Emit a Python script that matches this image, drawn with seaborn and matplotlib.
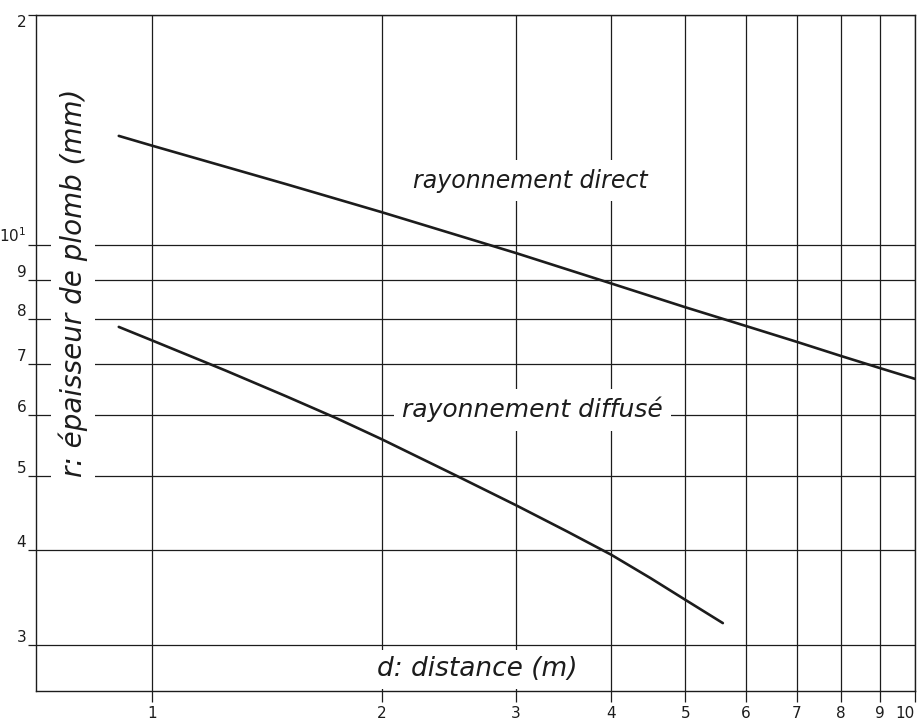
import matplotlib
matplotlib.use("Agg")
import matplotlib.pyplot as plt
import seaborn as sns
import pandas as pd

# ---- data (log-log chart) ----
d_direct = [0.905, 1.0, 1.5, 2.0, 3.0, 4.0, 5.0, 6.0, 7.0, 8.0, 9.0, 10.0]
r_direct = [13.90, 13.50, 12.02, 11.05, 9.77, 8.915, 8.30, 7.846, 7.479, 7.167, 6.91, 6.69]

d_diffuse = [0.905, 1.0, 1.25, 1.5, 1.75, 2.0, 2.5, 3.0, 3.5, 4.0, 4.5, 5.0, 5.6]
r_diffuse = [7.823, 7.513, 6.858, 6.348, 5.936, 5.580, 5.005, 4.574, 4.227, 3.940, 3.674, 3.441, 3.208]

x_ticks = [1, 2, 3, 4, 5, 6, 7, 8, 9, 10]
x_tick_labels = ["1", "2", "3", "4", "5", "6", "7", "8", "9", "10"]
y_ticks = [3, 4, 5, 6, 7, 8, 9, 10, 20]
y_tick_labels = ["3", "4", "5", "6", "7", "8", "9", r"$10^1$", "2"]

label_direct = "rayonnement direct"
label_diffuse = "rayonnement diffusé"
x_title = "d: distance (m)"
y_title = "r: épaisseur de plomb (mm)"

df = pd.concat([
    pd.DataFrame({"d": d_direct, "r": r_direct, "serie": label_direct}),
    pd.DataFrame({"d": d_diffuse, "r": r_diffuse, "serie": label_diffuse}),
], ignore_index=True)

sns.set_theme(style="white")
plt.rcParams["font.family"] = ["DejaVu Sans"]

fig = plt.figure(figsize=(9.2, 7.2), dpi=100)
ax = fig.add_axes([36 / 920, 1 - 691 / 720, (915 - 36) / 920, (691 - 15) / 720])
ax.set_xscale("log")
ax.set_yscale("log")

ink = "#1c1c1c"
sns.lineplot(data=df, x="d", y="r", units="serie", estimator=None, sort=True,
             color=ink, linewidth=1.9, ax=ax, legend=False, zorder=3)

ax.set_xlim(0.705, 10.0)
ax.set_ylim(2.615, 20)

ax.minorticks_off()
ax.set_xticks(x_ticks)
ax.set_xticklabels(x_tick_labels)
ax.set_yticks(y_ticks)
ax.set_yticklabels(y_tick_labels)
ax.tick_params(axis="x", which="major", direction="out", length=8, width=0.9,
               color=ink, labelsize=11, pad=3, labelcolor=ink, bottom=True)
ax.tick_params(axis="y", which="major", direction="out", length=6, width=0.9,
               color=ink, labelsize=11, pad=1, labelcolor=ink, left=True)
ylabs = ax.get_yticklabels()
for t in ylabs[:-1]:
    t.set_verticalalignment("bottom")
ylabs[-1].set_verticalalignment("top")
ax.get_xticklabels()[-1].set_horizontalalignment("right")

ax.grid(True, which="major", color=ink, linewidth=0.9, zorder=1)
ax.set_axisbelow(True)
for sp in ax.spines.values():
    sp.set_color(ink)
    sp.set_linewidth(1.0)
    sp.set_visible(True)
    sp.set_zorder(6)

ax.set_xlabel("")
ax.set_ylabel("")

fstyle = dict(family=["DejaVu Sans"], style="italic", color=ink, zorder=5)
box = dict(facecolor="white", edgecolor="none", pad=6)

ax.text(3.13, 12.15, label_direct, ha="center", va="center", fontsize=17,
        bbox=box, **fstyle)
ax.text(3.15, 6.1, label_diffuse, ha="center", va="center", fontsize=18,
        bbox=box, **fstyle)
ax.text(2.67, 2.79, x_title, ha="center", va="center", fontsize=19,
        bbox=dict(facecolor="white", edgecolor="none", pad=5), **fstyle)
ax.text(0.788, 8.93, y_title, ha="center", va="center", fontsize=20,
        rotation=90, bbox=dict(facecolor="white", edgecolor="none", pad=5), **fstyle)

fig.savefig("out.png", dpi=100)
